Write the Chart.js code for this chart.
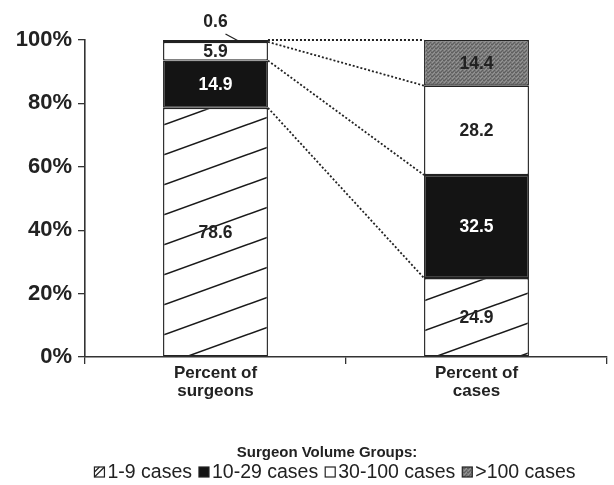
<!DOCTYPE html>
<html>
<head>
<meta charset="utf-8">
<script src="https://cdn.jsdelivr.net/npm/chart.js@4.4.0/dist/chart.umd.min.js"></script>
<style>
  html, body { margin: 0; padding: 0; background: #fff; }
</style>
</head>
<body>
<canvas id="volumeChart" width="614" height="485"></canvas>
<script>
// data
const categories = [['Percent of', 'surgeons'], ['Percent of', 'cases']];
const groups = ['1-9 cases', '10-29 cases', '30-100 cases', '>100 cases'];
const cases1to9 = [78.6, 24.9];
const cases10to29 = [14.9, 32.5];
const cases30to100 = [5.9, 28.2];
const casesOver100 = [0.6, 14.4];
const legendTitle = 'Surgeon Volume Groups:';

Chart.defaults.font.family = '"Liberation Sans", Arial, sans-serif';
Chart.defaults.color = '#222';

const ctx = document.getElementById('volumeChart').getContext('2d');

// diagonal hatch for the 1-9 group
function makeHatch() {
    const c = document.createElement('canvas');
    c.width = 83; c.height = 30;
    const g = c.getContext('2d');
    g.fillStyle = '#fff';
    g.fillRect(0, 0, 83, 30);
    g.strokeStyle = '#1a1a1a';
    g.lineWidth = 1.6;
    [[0, 0], [83, 0], [-83, 0], [0, 30], [0, -30]].forEach(([dx, dy]) => {
        g.beginPath();
        g.moveTo(dx, 30 + dy);
        g.lineTo(83 + dx, dy);
        g.stroke();
    });
    const p = ctx.createPattern(c, 'repeat');
    p.setTransform(new DOMMatrix().translate(0, 4));
    return p;
}

// grainy grey for the >100 group
function makeGrain() {
    const c = document.createElement('canvas');
    c.width = 4; c.height = 4;
    const g = c.getContext('2d');
    g.fillStyle = '#7a7a7a';
    g.fillRect(0, 0, 4, 4);
    g.fillStyle = '#5e5e5e';
    g.fillRect(0, 0, 1, 1); g.fillRect(2, 2, 1, 1); g.fillRect(3, 0, 1, 1); g.fillRect(1, 3, 1, 1);
    g.fillStyle = '#959595';
    g.fillRect(2, 0, 1, 1); g.fillRect(0, 2, 1, 1); g.fillRect(1, 1, 1, 1);
    return ctx.createPattern(c, 'repeat');
}

const hatch = makeHatch();
const grain = makeGrain();

// dotted lines joining the top of each group across the two bars
const connectors = {
    id: 'connectors',
    afterDatasetsDraw(chart) {
        const c = chart.ctx;
        c.save();
        c.strokeStyle = '#222';
        c.lineWidth = 1.8;
        c.setLineDash([2, 2]);
        chart.data.datasets.forEach((ds, i) => {
            const [a, b] = chart.getDatasetMeta(i).data;
            c.beginPath();
            c.moveTo(a.x + a.width / 2, a.y);
            c.lineTo(b.x - b.width / 2, b.y);
            c.stroke();
        });
        c.restore();
    }
};

// value labels inside the segments
const segmentLabels = {
    id: 'segmentLabels',
    afterDatasetsDraw(chart) {
        const c = chart.ctx;
        c.save();
        c.font = 'bold 17.5px "Liberation Sans", Arial, sans-serif';
        c.textAlign = 'center';
        c.textBaseline = 'middle';
        chart.data.datasets.forEach((ds, i) => {
            chart.getDatasetMeta(i).data.forEach((bar, j) => {
                const v = ds.data[j].toFixed(1);
                const h = Math.abs(bar.base - bar.y);
                c.fillStyle = ds.textColor;
                if (h < 12) {
                    const ty = bar.y - 18;
                    c.fillStyle = '#222';
                    c.fillText(v, bar.x, ty);
                    c.strokeStyle = '#222';
                    c.lineWidth = 1.3;
                    c.beginPath();
                    c.moveTo(bar.x + 10, ty + 12);
                    c.lineTo(bar.x + 23, (bar.y + bar.base) / 2);
                    c.stroke();
                } else {
                    c.fillText(v, bar.x, (bar.y + bar.base) / 2 + 1);
                }
            });
        });
        c.restore();
    }
};

// legend below the axis
const groupLegend = {
    id: 'groupLegend',
    afterDraw(chart) {
        const c = chart.ctx;
        c.save();
        c.textBaseline = 'middle';
        c.font = 'bold 15px "Liberation Sans", Arial, sans-serif';
        c.textAlign = 'center';
        c.fillStyle = '#222';
        c.fillText(legendTitle, 327, 453);

        c.font = '19.5px "Liberation Sans", Arial, sans-serif';
        c.textAlign = 'left';
        const box = 10, gap = 3, sep = 7;
        const items = chart.data.datasets.map(ds => ({ ds, w: c.measureText(ds.label).width }));
        const total = items.reduce((s, it) => s + box + gap + it.w, 0) + sep * (items.length - 1);
        let x = 335 - total / 2;
        const y = 472;
        items.forEach(({ ds, w }) => {
            c.fillStyle = ds.legendFill;
            c.fillRect(x, y - box / 2, box, box);
            c.strokeStyle = '#222';
            c.lineWidth = 1.2;
            c.strokeRect(x, y - box / 2, box, box);
            if (ds.hatched) {
                c.beginPath();
                c.moveTo(x, y + box / 2);
                c.lineTo(x + box, y - box / 2);
                c.moveTo(x, y);
                c.lineTo(x + box / 2, y - box / 2);
                c.stroke();
            }
            c.fillStyle = '#222';
            c.fillText(ds.label, x + box + gap, y + 1);
            x += box + gap + w + sep;
        });
        c.restore();
    }
};

const barStyle = {
    borderColor: '#222',
    borderWidth: 1.4,
    borderSkipped: false,
    categoryPercentage: 1,
    barPercentage: 0.402
};

new Chart(ctx, {
    type: 'bar',
    data: {
        labels: categories,
        datasets: [
            { ...barStyle, label: groups[0], data: cases1to9, backgroundColor: hatch, legendFill: '#fff', hatched: true, textColor: '#222' },
            { ...barStyle, label: groups[1], data: cases10to29, backgroundColor: '#141414', legendFill: '#141414', textColor: '#fff' },
            { ...barStyle, label: groups[2], data: cases30to100, backgroundColor: '#fff', legendFill: '#fff', textColor: '#222' },
            { ...barStyle, label: groups[3], data: casesOver100, backgroundColor: grain, legendFill: grain, textColor: '#222' }
        ]
    },
    options: {
        responsive: false,
        animation: false,
        devicePixelRatio: 1,
        layout: { padding: { top: 40, right: 7, left: 0, bottom: 0 } },
        plugins: {
            legend: { display: false },
            tooltip: { enabled: false }
        },
        scales: {
            x: {
                stacked: true,
                grid: { drawOnChartArea: false, offset: true, tickLength: 7, color: '#333', lineWidth: 1.3 },
                border: { color: '#333', width: 1.6 },
                ticks: { padding: 0, font: { size: 17, weight: 'bold', lineHeight: 1.08 }, color: '#222' },
                afterFit: s => { s.height = 128; }
            },
            y: {
                stacked: true,
                min: 0,
                max: 100,
                grid: { drawOnChartArea: false, tickLength: 7, color: '#333', lineWidth: 1.3 },
                border: { color: '#333', width: 1.6 },
                ticks: {
                    stepSize: 20,
                    padding: 6,
                    color: '#222',
                    font: { size: 22, weight: 'bold' },
                    callback: v => v + '%'
                },
                afterFit: s => { s.width = 85; }
            }
        }
    },
    plugins: [connectors, segmentLabels, groupLegend]
});
</script>
</body>
</html>
